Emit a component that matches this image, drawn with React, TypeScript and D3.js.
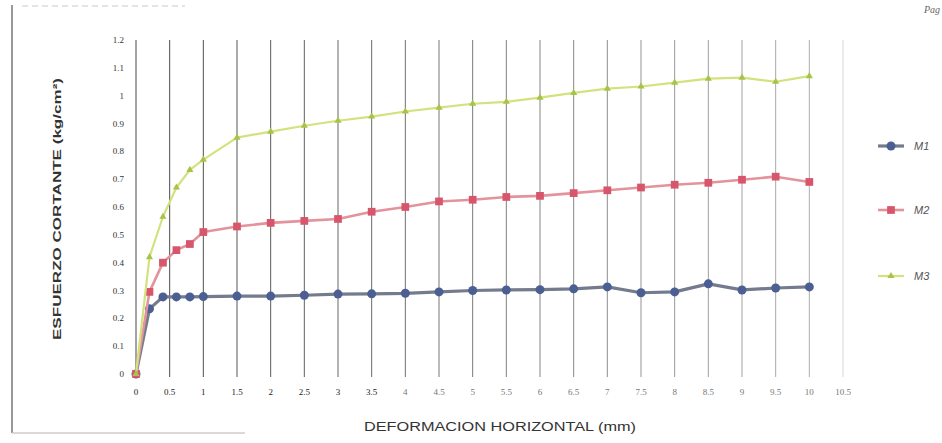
import { useEffect, useRef } from "react";
import { select, scaleLinear, line, range, symbol, symbolSquare, symbolTriangle } from "d3";
////
///// data
const DEFORMACION = [0, 0.2, 0.4, 0.6, 0.8, 1, 1.5, 2, 2.5, 3, 3.5, 4, 4.5, 5, 5.5, 6, 6.5, 7, 7.5, 8, 8.5, 9, 9.5, 10];
const M1 = [0, 0.234, 0.277, 0.277, 0.277, 0.278, 0.28, 0.28, 0.283, 0.287, 0.288, 0.29, 0.295, 0.3, 0.302, 0.303, 0.306, 0.313, 0.292, 0.295, 0.324, 0.302, 0.309, 0.313];
const M2 = [0, 0.295, 0.4, 0.445, 0.467, 0.51, 0.53, 0.543, 0.55, 0.557, 0.583, 0.6, 0.62, 0.626, 0.636, 0.64, 0.65, 0.66, 0.67, 0.68, 0.687, 0.698, 0.709, 0.69];
const M3 = [0, 0.42, 0.565, 0.67, 0.733, 0.77, 0.849, 0.871, 0.892, 0.91, 0.925, 0.943, 0.957, 0.971, 0.978, 0.993, 1.01, 1.025, 1.033, 1.047, 1.061, 1.065, 1.05, 1.07];
const X_TICKS = range(0, 10.51, 0.5);
const Y_TICKS = range(0, 1.21, 0.1);
const SERIES_NAMES = ["M1", "M2", "M3"];
//
const OPTIONS = {
  width: 942,
  height: 443,
  left: 136,
  right: 843,
  top: 40,
  bottom: 374,
  //
  _colors: [
    { line: "#737b8c", mark: "#4b5f93" },
    { line: "#e3939b", mark: "#d8566b" },
    { line: "#d3e27e", mark: "#a6c546" },
  ],
  _legendY: [146, 210, 276],
};

const fmt = (v) => String(+v.toFixed(1));

export default function App() {
  const root = useRef(null);
  //
  // @init
  useEffect(() => {
    const { width, height, left, right, top, bottom, _colors, _legendY } = OPTIONS;
    const svg = select(root.current);
    svg.selectAll("*").remove();
    //
    const x = scaleLinear().domain([0, 10.5]).range([left, right]);
    const y = scaleLinear().domain([0, 1.2]).range([bottom, top]);
    //
    svg.append("rect").attr("width", width).attr("height", height).attr("fill", "#fff");
    //
    // page scraps around the chart
    svg.append("line").attr("x1", 12).attr("x2", 12).attr("y1", 5).attr("y2", 433)
      .attr("stroke", "#555").attr("stroke-width", 1.2);
    svg.append("line").attr("x1", 12).attr("x2", 245).attr("y1", 433).attr("y2", 433)
      .attr("stroke", "#ccc").attr("stroke-width", 1.5);
    svg.append("line").attr("x1", 22).attr("x2", 185).attr("y1", 6).attr("y2", 6)
      .attr("stroke", "#e4e4e4").attr("stroke-width", 2).attr("stroke-dasharray", "6 4");
    svg.append("text").attr("x", 940).attr("y", 13).attr("text-anchor", "end")
      .attr("font-family", "Liberation Serif").attr("font-style", "italic")
      .attr("font-size", 10).attr("fill", "#666").text("Pag");
    //
    // vertical grid, fading to the right like the copy
    svg.append("g").selectAll("line").data(X_TICKS).join("line")
      .attr("x1", (d) => x(d)).attr("x2", (d) => x(d))
      .attr("y1", top).attr("y2", bottom + 3)
      .attr("stroke", "#333")
      .attr("stroke-width", 1)
      .attr("stroke-opacity", (d, i) => (d === 10.5 ? 0.2 : 0.9 - i * 0.025));
    //
    // tick labels
    svg.append("g").selectAll("text").data(X_TICKS).join("text")
      .attr("x", (d) => x(d)).attr("y", bottom + 21)
      .attr("text-anchor", "middle")
      .attr("font-family", "Liberation Serif").attr("font-size", 9)
      .attr("fill", (d, i) => (i < 8 ? "#222" : "#777"))
      .text(fmt);
    svg.append("g").selectAll("text").data(Y_TICKS).join("text")
      .attr("x", left - 12).attr("y", (d) => y(d) + 3)
      .attr("text-anchor", "end")
      .attr("font-family", "Liberation Serif").attr("font-size", 9)
      .attr("fill", "#333")
      .text(fmt);
    //
    // titles (glyphs stretched wide on the sheet)
    svg.append("text").attr("x", 500).attr("y", 431).attr("text-anchor", "middle")
      .attr("font-family", "Liberation Sans").attr("font-size", 12.5).attr("fill", "#333")
      .attr("textLength", 272).attr("lengthAdjust", "spacingAndGlyphs")
      .text("DEFORMACION HORIZONTAL (mm)");
    svg.append("text")
      .attr("transform", `translate(61, 209) rotate(-90)`)
      .attr("text-anchor", "middle")
      .attr("font-family", "Liberation Sans").attr("font-size", 11.5)
      .attr("font-weight", "bold").attr("fill", "#333")
      .attr("textLength", 262).attr("lengthAdjust", "spacingAndGlyphs")
      .text("ESFUERZO CORTANTE (kg/cm²)");
    //
    // series
    const series = [M1, M2, M3];
    const marks = [
      (g) => g.append("circle").attr("r", 4.5),
      (g) => g.append("path").attr("d", symbol(symbolSquare, 60)()),
      (g) => g.append("path").attr("d", symbol(symbolTriangle, 22)()),
    ];
    const widths = [3.2, 2.6, 2.2];
    const pathOf = line().x((d) => x(d[0])).y((d) => y(d[1]));
    //
    series.forEach((vals, s) => {
      const pts = DEFORMACION.map((d, i) => [d, vals[i]]);
      svg.append("path").attr("d", pathOf(pts))
        .attr("fill", "none").attr("stroke", _colors[s].line)
        .attr("stroke-width", widths[s]).attr("stroke-linejoin", "round");
      const g = svg.append("g").attr("fill", _colors[s].mark);
      pts.forEach((p) => {
        const m = g.append("g").attr("transform", `translate(${x(p[0])}, ${y(p[1])})`);
        marks[s](m);
      });
    });
    //
    // legend, cut off at the page edge
    SERIES_NAMES.forEach((name, s) => {
      const ly = _legendY[s];
      const g = svg.append("g");
      g.append("line").attr("x1", 878).attr("x2", 904).attr("y1", ly).attr("y2", ly)
        .attr("stroke", _colors[s].line).attr("stroke-width", widths[s]);
      const m = g.append("g").attr("transform", `translate(891, ${ly})`).attr("fill", _colors[s].mark);
      marks[s](m);
      g.append("text").attr("x", 914).attr("y", ly + 4)
        .attr("font-family", "Liberation Sans").attr("font-style", "italic")
        .attr("font-size", 11).attr("fill", "#555").text(name);
    });
  }, []);
  //
  return (
    <svg
      ref={root}
      width={OPTIONS.width}
      height={OPTIONS.height}
      style={{ position: "absolute", left: 0, top: 0 }}
    />
  );
}
